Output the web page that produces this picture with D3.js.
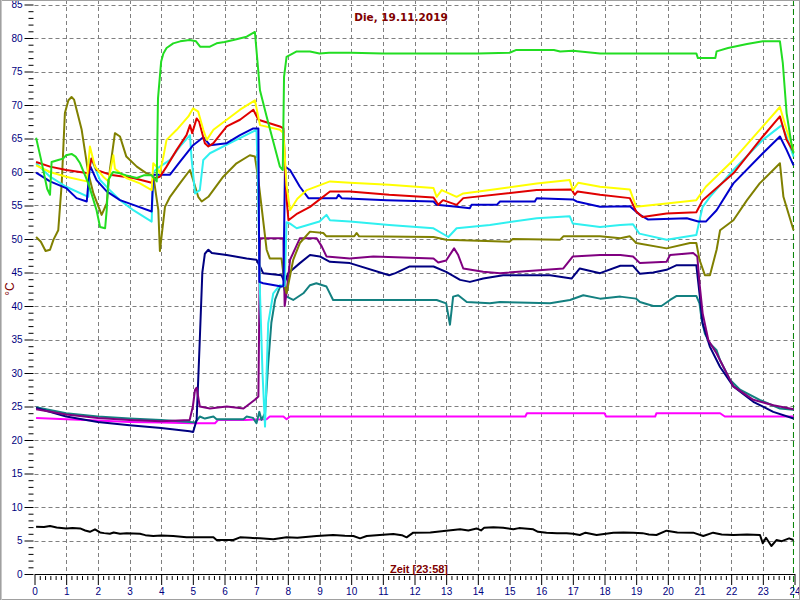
<!DOCTYPE html>
<html><head><meta charset="utf-8">
<script src="https://cdn.jsdelivr.net/npm/d3@7"></script>
<style>
html,body{margin:0;padding:0;background:#fff;}
svg{display:block;}
</style></head>
<body>
<svg id="chart" width="800" height="600"></svg>
<script>
// ---- Data (hour of day, °C) ----
const title = "Die, 19.11.2019";
const xLabel = "Zeit [23:58]";
const yLabel = "°C";
const hourTicks = d3.range(0, 25);
const tempTicks = d3.range(0, 90, 5);
const nowHour = 23.967;

const green = [[0.05,65.1],[0.2,62],[0.4,57.5],[0.49,56.6],[0.54,61.5],[0.75,61.8],[0.9,62],[1.0,62.5],[1.17,62.7],[1.3,62.3],[1.44,61.3],[1.7,58.3],[1.96,54.3],[2.07,51.8],[2.23,51.6],[2.28,54.3],[2.33,58.8],[2.48,60],[2.7,59.8],[2.9,59.5],[3.23,59.1],[3.45,59.5],[3.7,59.5],[3.86,58.6],[3.9,71],[4.0,76.5],[4.07,77.7],[4.17,78.5],[4.38,79.2],[4.6,79.5],[4.9,79.7],[5.1,79.5],[5.23,78.7],[5.54,78.7],[5.75,79.2],[6.0,79.4],[6.28,79.7],[6.7,80.2],[6.96,80.9],[7.12,72.2],[7.33,68.3],[7.75,60.8],[7.84,60.3],[7.88,74.2],[7.96,77.2],[8.28,78.0],[8.7,78.0],[9.0,77.7],[9.3,77.8],[10,77.8],[11,77.7],[12,77.7],[13,77.7],[14,77.7],[15,77.8],[15.2,78.2],[16.4,78.2],[16.6,78.0],[17.0,78.1],[17.86,77.7],[20.9,77.7],[20.95,77.0],[21.5,77.0],[21.54,78.0],[21.9,78.5],[22.5,79.1],[23.0,79.5],[23.54,79.5],[23.63,76.3],[23.75,68.8],[23.9,64.3],[23.97,62.8]];
const yellow = [[0.05,61],[0.49,60],[1.0,59.3],[1.65,58.6],[1.75,63.8],[1.91,60.8],[2.17,59.3],[2.33,58.6],[2.49,62.5],[2.54,60.5],[2.9,59.1],[3.33,58.3],[3.7,57.3],[3.75,61.3],[3.85,60.8],[3.96,59.8],[4.07,62.3],[4.17,64.8],[4.49,66.3],[4.86,68.3],[5.01,69.5],[5.17,69],[5.33,66.3],[5.44,64.8],[5.65,66.3],[6.07,67.8],[6.49,69.3],[6.96,70.7],[7.12,67],[7.75,66.3],[7.86,65.8],[7.96,58],[8.07,54.3],[8.3,56],[8.6,57.3],[9.33,58.6],[9.96,58.4],[11.2,58.1],[12.6,57.6],[12.7,56.3],[12.86,57.3],[13.33,56.3],[13.54,56.8],[14.38,57.3],[15.86,58.3],[16.9,58.8],[17.0,57.3],[17.17,58.4],[17.86,57.8],[18.8,57.4],[19.0,54.8],[19.96,55.3],[20.9,55.8],[21.2,57.8],[22.07,61.8],[23.0,66.8],[23.54,69.7],[23.75,66.3],[23.97,63.3]];
const red = [[0.05,61.5],[0.49,60.8],[1.0,60.3],[1.7,59.8],[1.8,62],[1.96,60.3],[2.38,59.6],[3.12,59.1],[3.7,58.4],[3.75,59.0],[3.96,59.3],[4.17,60.8],[4.49,63.3],[4.8,65.5],[4.91,67],[4.98,65.8],[5.12,68],[5.2,67.5],[5.38,64.3],[5.49,63.8],[5.65,64.3],[6.07,66.8],[6.49,67.8],[6.91,69.3],[7.07,67.8],[7.75,66.8],[7.86,66.5],[7.96,56],[8.02,52.8],[8.3,53.8],[8.7,54.8],[9.33,57.1],[9.96,57.1],[11.2,56.6],[12.6,56.2],[12.75,55.1],[12.9,55.8],[13.33,55.1],[13.54,56.1],[15.86,57.3],[16.96,57.4],[17.06,56.6],[17.15,57.1],[17.86,56.6],[18.8,56.1],[19.0,54.1],[19.2,53.3],[19.96,53.8],[20.9,54],[21.1,55.8],[22.07,59.8],[23.0,65.3],[23.54,68.3],[23.75,64.8],[23.97,63]];
const cyan = [[0.05,61.3],[0.49,59.3],[1.0,57.8],[1.7,56.3],[1.75,62],[1.85,61.3],[2.07,58.8],[2.38,57.3],[2.7,55.8],[3.12,54.3],[3.7,52.6],[3.75,60],[3.96,60.8],[4.28,61.8],[4.59,63.8],[4.91,65.5],[4.96,62],[5.07,56.8],[5.22,57.3],[5.33,61.8],[5.54,62.8],[6.17,64.3],[6.8,65.8],[7.01,66.3],[7.05,60],[7.12,42],[7.2,30],[7.28,22],[7.33,30],[7.38,37.4],[7.54,41.9],[7.75,43.1],[7.9,43],[7.96,52.5],[8.07,52.3],[8.28,51.6],[9.0,52.6],[9.22,53.6],[9.33,52.8],[9.96,52.6],[11.2,52.1],[12.6,51.6],[13.07,50.3],[13.33,51.6],[14.38,52.1],[15.86,53.1],[16.9,53.4],[17.0,52.3],[17.86,51.8],[18.5,52.1],[18.9,52.2],[19.1,50.8],[19.96,49.9],[20.9,50.6],[21.0,52.8],[21.1,54.8],[21.33,56.3],[22.07,60.3],[23.0,64.8],[23.6,67],[23.75,65.3],[23.97,62.3]];
const blue = [[0.05,59.9],[0.49,58.6],[1.0,57.6],[1.33,56.1],[1.65,55.6],[1.75,61],[1.96,58.8],[2.28,57.1],[2.7,55.8],[3.12,55.1],[3.7,54.1],[3.75,59.6],[4.28,59.6],[4.59,61.5],[5.01,64],[5.33,65.2],[5.54,64],[6.07,64.3],[6.49,65.5],[6.91,66.5],[7.07,66.5],[7.1,43.6],[7.22,43.4],[7.8,42.9],[7.86,43],[7.91,60.8],[8.07,60.3],[8.38,57.8],[8.65,56.1],[9.54,56.1],[9.6,56.6],[9.7,56.1],[11.12,55.8],[12.6,55.6],[12.7,55.1],[13.33,54.8],[13.75,54.6],[13.8,55.1],[14.6,55.1],[14.7,55.6],[15.8,55.6],[15.86,56.1],[17.0,55.9],[17.12,55.6],[17.86,54.8],[18.8,54.9],[19.12,53.6],[19.38,52.9],[20.6,53.1],[20.96,52.6],[21.2,52.6],[21.54,54.3],[22.07,58.3],[23.0,62.8],[23.54,65.3],[23.75,63.3],[23.97,61]];
const olive = [[0.05,50.3],[0.2,49.6],[0.35,48.2],[0.49,48.4],[0.6,49.9],[0.75,51.3],[0.86,58.3],[0.96,68.8],[1.07,70.7],[1.17,71.2],[1.25,70.8],[1.33,69.3],[1.49,66.3],[1.7,59.8],[1.86,56.8],[2.12,53.6],[2.28,55.3],[2.38,60.3],[2.54,65.8],[2.7,65.3],[2.9,62.3],[3.23,60.8],[3.54,59.8],[3.75,59.5],[3.91,54.3],[3.96,48.2],[4.12,54.8],[4.28,56.3],[4.59,58.3],[4.91,60.3],[5.01,58.8],[5.17,56.3],[5.28,55.6],[5.49,56.3],[5.96,59.3],[6.38,61.3],[6.8,62.5],[6.96,62.3],[7.07,58.8],[7.22,52.8],[7.33,48.4],[7.43,47.1],[7.8,47.1],[7.91,42.9],[7.96,41.9],[8.17,46.9],[8.38,49.4],[8.7,51.1],[9.12,50.9],[9.22,50.4],[10.1,50.4],[10.17,50.9],[10.25,50.4],[12.6,50.3],[13.0,49.9],[15.0,49.6],[15.1,50],[16.6,49.9],[16.7,50.4],[17.86,50.4],[18.5,50.1],[18.8,50.4],[19.0,49.4],[19.96,48.6],[20.7,49.4],[20.9,49.4],[21.0,46.9],[21.17,44.6],[21.33,44.6],[21.54,48.4],[21.65,51.3],[22.07,52.8],[22.5,55.8],[22.9,58.3],[23.54,61.3],[23.65,56.3],[23.97,51.3]];
const purple = [[0.05,24.6],[1,23.8],[2,23.3],[3,23],[4,22.8],[4.9,23],[5.0,25],[5.07,27.5],[5.12,27.8],[5.22,25],[5.54,24.7],[6.07,25],[6.6,24.7],[6.96,26],[7.07,26.5],[7.1,40],[7.12,50.1],[7.86,50.1],[7.9,40],[7.96,42],[8.07,46.9],[8.38,50.1],[8.91,50.1],[9.07,48.9],[9.22,47.4],[9.96,47.1],[10.7,47.4],[12.6,47.1],[12.75,46.5],[13.0,46.8],[13.25,48.6],[13.38,47.6],[13.54,45.6],[14.17,45.1],[14.7,44.9],[16.7,45.6],[17.0,47.4],[17.86,47.6],[18.5,47.6],[18.9,47.4],[19.12,46.4],[19.96,46.6],[20.07,47.6],[20.8,47.9],[20.93,47.4],[21.0,43.4],[21.1,38.9],[21.28,34.9],[21.54,32.9],[22.07,28],[22.7,26],[23.33,25.2],[23.97,24.6]];
const navy = [[0.05,24.8],[1,23.5],[2,22.7],[3,22.2],[4,21.8],[4.9,21.3],[5.01,21.2],[5.12,23],[5.22,35],[5.3,45],[5.38,47.8],[5.49,48.4],[5.6,47.9],[6.07,47.6],[6.7,47.1],[7.01,46.9],[7.17,45.4],[7.22,44.9],[7.8,44.6],[7.9,43.5],[8.01,44.9],[8.38,46.4],[8.7,47.6],[9.01,47.4],[9.33,46.6],[9.96,46.4],[11.2,44.6],[11.4,44.9],[11.85,45.9],[12.6,45.9],[13.0,45.1],[13.44,43.9],[13.75,43.6],[14.17,44.1],[14.8,44.6],[16.28,44.6],[16.96,44.1],[17.22,45.6],[17.86,44.9],[18.5,46],[18.9,46],[19.12,44.8],[19.54,45],[19.96,45.4],[20.28,46.1],[20.9,46.1],[21.0,41.9],[21.1,37.4],[21.33,33.9],[21.65,30.9],[22.07,28],[22.7,25.7],[23.33,24.2],[23.97,23.2]];
const teal = [[0.05,24.9],[1,24],[2,23.5],[3,23.2],[4,23],[4.9,22.7],[5.07,22.6],[5.22,23.5],[5.38,23.2],[5.65,23.5],[5.75,23.1],[6.6,23.1],[6.7,23.5],[6.9,23.3],[7.01,22.5],[7.1,24.2],[7.17,23],[7.28,24],[7.38,31.4],[7.48,37.5],[7.6,41],[7.75,42.8],[7.85,43.1],[7.96,41.4],[8.17,40.9],[8.49,41.9],[8.7,43.1],[8.9,43.4],[9.22,42.9],[9.43,40.9],[10.07,40.9],[12.7,40.9],[13.0,40.4],[13.12,37.2],[13.22,41.4],[13.38,41.6],[13.65,40.6],[14.38,40.4],[14.7,40.6],[16.28,40.4],[16.91,40.9],[17.33,41.6],[17.86,41.1],[18.5,41.4],[19.0,41.1],[19.12,40.6],[19.54,40],[19.8,40],[20.07,40.9],[20.28,41.5],[20.9,41.5],[21.0,40.4],[21.07,37.9],[21.17,35.9],[21.33,34.4],[21.54,33.4],[21.65,31.9],[21.96,29],[22.28,27.5],[22.9,26],[23.54,24.7],[23.97,24.5]];
const magenta = [[0.05,23.3],[1,23.1],[2,22.9],[3,22.7],[4,22.6],[5,22.5],[5.7,22.5],[5.8,23],[6.65,23],[7.33,23.1],[7.43,23.5],[7.86,23.5],[7.96,23.1],[8.07,23.5],[15.5,23.5],[15.55,24],[18.0,24],[18.05,23.5],[19.6,23.5],[19.64,24],[21.65,24],[21.8,23.5],[23.97,23.5]];
const black = [[0.05,7.06],[0.3,7.0],[0.49,7.16],[0.7,6.95],[1.0,6.8],[1.2,6.85],[1.44,6.8],[1.6,6.5],[1.75,6.3],[1.91,6.67],[2.07,6.2],[2.2,6.1],[2.38,6.0],[2.5,6.2],[2.7,6.0],[2.91,6.07],[3.33,6.0],[3.5,5.8],[3.75,5.67],[4.0,5.75],[4.38,5.67],[4.8,5.47],[5.2,5.5],[5.65,5.47],[5.75,5.07],[6.28,5.07],[6.49,5.47],[6.8,5.4],[7.12,5.32],[7.54,5.17],[7.96,5.47],[8.3,5.4],[8.91,5.67],[9.43,5.82],[9.8,5.7],[10.07,5.67],[10.28,5.32],[10.49,5.67],[10.9,5.82],[11.33,5.97],[11.6,5.8],[11.75,5.47],[11.96,6.17],[12.5,6.2],[13.0,6.47],[13.44,6.67],[13.7,6.5],[13.96,6.8],[14.1,6.5],[14.2,6.9],[14.49,6.97],[14.8,6.9],[15.12,6.67],[15.3,6.85],[15.75,6.67],[15.9,6.3],[16.17,6.17],[16.5,6.1],[16.8,6.07],[17.0,6.0],[17.22,5.82],[17.4,6.17],[17.75,5.82],[18.28,6.17],[18.6,6.2],[18.91,6.17],[19.2,6.1],[19.4,5.9],[19.64,5.82],[19.96,6.47],[20.3,6.2],[20.8,6.17],[21.12,5.67],[21.43,6.17],[21.7,5.9],[22.07,5.82],[22.5,5.9],[22.91,5.82],[23.0,4.58],[23.1,5.4],[23.27,4.18],[23.43,5.07],[23.6,4.9],[23.83,5.32],[23.97,5.07]];

const seriesList = [
  {data: magenta, color: "#ff00ff"},
  {data: teal, color: "#138080"},
  {data: navy, color: "#000080"},
  {data: purple, color: "#800080"},
  {data: olive, color: "#808000"},
  {data: cyan, color: "#2ff0f0"},
  {data: blue, color: "#0000cc"},
  {data: red, color: "#e00000"},
  {data: yellow, color: "#ffff00"},
  {data: green, color: "#22dd22"},
  {data: black, color: "#000000"}
];

// ---- Drawing ----
const svg = d3.select("#chart");
const x = d3.scaleLinear().domain([0, 24]).range([34.5, 794.5]);
const y = d3.scaleLinear().domain([0, 85]).range([574, 4.5]);
const FONT = "'Liberation Sans', Arial, sans-serif";

svg.append("rect").attr("x",0).attr("y",0).attr("width",800).attr("height",600).attr("fill","#fff");

// grid
const grid = svg.append("g");
grid.selectAll("line.h").data(tempTicks.filter(t => t > 0)).join("line")
  .attr("x1", x(0)).attr("x2", x(24)).attr("y1", d => Math.round(y(d)) + 0.5).attr("y2", d => Math.round(y(d)) + 0.5)
  .attr("stroke", "#808080").attr("stroke-dasharray", "4,3").attr("stroke-width", 1);
grid.selectAll("line.v").data(hourTicks.filter(t => t > 0 && t < 24)).join("line")
  .attr("x1", d => Math.round(x(d)) + 0.5).attr("x2", d => Math.round(x(d)) + 0.5).attr("y1", 0).attr("y2", y(0))
  .attr("stroke", "#808080").attr("stroke-dasharray", "4,3").attr("stroke-width", 1);

// now marker
svg.append("line").attr("x1", x(nowHour)).attr("x2", x(nowHour)).attr("y1", 0).attr("y2", 598)
  .attr("stroke", "#008000").attr("stroke-dasharray", "6,3").attr("stroke-width", 1);

// axes
const xMinor = d3.axisBottom(x).tickValues(d3.range(0, 24 * 6 + 1).map(i => i / 6).filter(v => Math.abs(v - Math.round(v)) > 1e-6))
  .tickSize(6).tickSizeOuter(0).tickFormat("");
const gxm = svg.append("g").attr("transform", `translate(0,${y(0)})`).call(xMinor);
gxm.select(".domain").remove();
gxm.selectAll(".tick line").attr("stroke", "#000").attr("y1", 2);

const xMajor = d3.axisBottom(x).tickValues(hourTicks).tickSize(11).tickSizeOuter(0).tickFormat(d3.format("d"));
const gx = svg.append("g").attr("transform", `translate(0,${y(0)})`).call(xMajor);
gx.select(".domain").attr("stroke", "#000");
gx.selectAll(".tick line").attr("stroke", "#000");
gx.selectAll(".tick text").attr("fill", "#000080").attr("font-family", FONT).attr("font-size", "10px").attr("y", 14);

const yMinor = d3.axisLeft(y).tickValues(d3.range(0, 86).filter(v => v % 5 !== 0)).tickSize(5).tickSizeOuter(0).tickFormat("");
const gym = svg.append("g").attr("transform", `translate(${x(0) - 1},0)`).call(yMinor);
gym.select(".domain").remove();
gym.selectAll(".tick line").attr("stroke", "#000");

const yMajor = d3.axisLeft(y).tickValues(tempTicks).tickSize(9).tickSizeOuter(0).tickFormat(d3.format("d"));
const gy = svg.append("g").attr("transform", `translate(${x(0) - 1},0)`).call(yMajor);
gy.select(".domain").remove();
gy.selectAll(".tick line").attr("stroke", "#000");
gy.selectAll(".tick text").attr("fill", "#000080").attr("font-family", FONT).attr("font-size", "10px").attr("x", -11);

// series
const line = d3.line().x(d => x(d[0])).y(d => y(d[1]));
svg.append("g").selectAll("path").data(seriesList).join("path")
  .attr("d", d => line(d.data)).attr("fill", "none")
  .attr("stroke", d => d.color).attr("stroke-width", 2).attr("stroke-linejoin", "round");

// texts
svg.append("text").attr("x", 401).attr("y", 21).attr("text-anchor", "middle")
  .attr("font-family", "'DejaVu Sans', Verdana, sans-serif").attr("font-weight", "bold").attr("font-size", "10.5px")
  .attr("fill", "#800000").text(title);
svg.append("text").attr("x", 419).attr("y", 573).attr("text-anchor", "middle")
  .attr("font-family", FONT).attr("font-weight", "bold").attr("font-size", "11px")
  .attr("fill", "#800000").text(xLabel);
svg.append("text").attr("transform", "translate(14,289) rotate(-90)").attr("text-anchor", "middle")
  .attr("font-family", FONT).attr("font-size", "12px").attr("fill", "#800000").text(yLabel);

// frame
svg.append("rect").attr("x", 0.5).attr("y", 0.5).attr("width", 799).attr("height", 599)
  .attr("fill", "none").attr("stroke", "#a0a0a0").attr("stroke-width", 1);
svg.append("line").attr("x1", 1.5).attr("x2", 1.5).attr("y1", 0).attr("y2", 600).attr("stroke", "#c8c8c8");
</script>
</body></html>
